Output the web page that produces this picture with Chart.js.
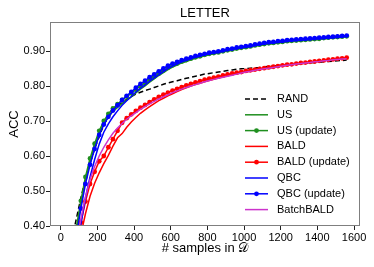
<!DOCTYPE html>
<html><head><meta charset="utf-8">
<script src="https://cdn.jsdelivr.net/npm/chart.js@4/dist/chart.umd.min.js"></script>
<style>html,body{margin:0;padding:0;background:#fff;}canvas{display:block;}</style>
</head><body>
<canvas id="c" width="374" height="267"></canvas>
<script>
const xs = [60,85,110,135,160,185,210,235,260,285,310,335,360,385,410,435,460,485,510,535,560,585,610,635,660,685,710,735,760,785,810,835,860,885,910,935,960,985,1010,1035,1060,1085,1110,1135,1160,1185,1210,1235,1260,1285,1310,1335,1360,1385,1410,1435,1460,1485,1510,1535,1560];

const randVals = [0.36,0.42,0.48,0.535,0.58,0.62,0.655,0.69,0.71,0.73,0.743,0.752,0.762,0.77,0.777,0.782,0.787,0.791,0.796,0.800,0.805,0.809,0.812,0.815,0.819,0.822,0.825,0.828,0.831,0.834,0.836,0.838,0.840,0.842,0.844,0.846,0.848,0.849,0.850,0.851,0.852,0.853,0.855,0.856,0.857,0.858,0.859,0.860,0.861,0.863,0.864,0.865,0.866,0.867,0.868,0.869,0.870,0.871,0.872,0.873,0.874];

const usVals = [0.315,0.385,0.462,0.53,0.583,0.626,0.664,0.692,0.712,0.727,0.739,0.75,0.76,0.769,0.78,0.791,0.80,0.811,0.82,0.83,0.838,0.847,0.854,0.86,0.866,0.87,0.875,0.879,0.883,0.886,0.889,0.892,0.894,0.897,0.90,0.902,0.905,0.907,0.909,0.911,0.914,0.916,0.918,0.92,0.921,0.923,0.924,0.926,0.927,0.928,0.929,0.930,0.931,0.932,0.933,0.935,0.936,0.937,0.938,0.939,0.941];

const usUpdVals = [0.325,0.395,0.472,0.54,0.593,0.635,0.672,0.70,0.72,0.736,0.748,0.76,0.77,0.779,0.79,0.80,0.809,0.819,0.827,0.836,0.844,0.852,0.859,0.864,0.87,0.874,0.878,0.882,0.885,0.889,0.892,0.894,0.896,0.899,0.902,0.904,0.907,0.909,0.911,0.913,0.916,0.918,0.92,0.922,0.923,0.925,0.926,0.928,0.929,0.930,0.931,0.932,0.933,0.934,0.935,0.937,0.938,0.939,0.940,0.941,0.942];

const baldVals = [0.25,0.31,0.375,0.435,0.485,0.522,0.552,0.578,0.602,0.628,0.652,0.664,0.682,0.697,0.71,0.722,0.732,0.741,0.75,0.758,0.765,0.772,0.778,0.784,0.79,0.795,0.80,0.804,0.808,0.812,0.816,0.819,0.823,0.826,0.829,0.832,0.835,0.837,0.84,0.842,0.845,0.847,0.849,0.851,0.853,0.855,0.857,0.859,0.861,0.863,0.865,0.866,0.868,0.869,0.871,0.872,0.874,0.875,0.877,0.878,0.880];

const baldUpdVals = [0.28,0.34,0.41,0.47,0.52,0.555,0.585,0.60,0.625,0.648,0.672,0.695,0.708,0.719,0.729,0.738,0.746,0.754,0.762,0.769,0.775,0.781,0.787,0.792,0.797,0.802,0.806,0.81,0.814,0.818,0.821,0.824,0.827,0.83,0.833,0.836,0.838,0.84,0.843,0.845,0.847,0.849,0.851,0.853,0.855,0.857,0.859,0.861,0.862,0.864,0.866,0.867,0.869,0.87,0.872,0.873,0.875,0.876,0.878,0.879,0.881];

const qbcVals = [0.26,0.325,0.405,0.48,0.54,0.59,0.634,0.668,0.692,0.712,0.729,0.745,0.758,0.77,0.783,0.794,0.803,0.814,0.823,0.832,0.841,0.85,0.857,0.863,0.869,0.873,0.878,0.882,0.885,0.889,0.892,0.894,0.896,0.899,0.902,0.904,0.907,0.909,0.911,0.913,0.916,0.918,0.92,0.922,0.923,0.925,0.926,0.928,0.929,0.930,0.931,0.932,0.933,0.934,0.935,0.936,0.937,0.938,0.939,0.940,0.942];

const qbcUpdVals = [0.30,0.37,0.45,0.52,0.575,0.62,0.66,0.69,0.712,0.73,0.745,0.76,0.772,0.783,0.795,0.806,0.815,0.825,0.833,0.842,0.85,0.858,0.864,0.869,0.874,0.878,0.882,0.886,0.889,0.892,0.895,0.897,0.899,0.902,0.905,0.907,0.91,0.912,0.914,0.916,0.919,0.921,0.923,0.925,0.926,0.928,0.929,0.931,0.932,0.933,0.934,0.935,0.936,0.937,0.938,0.939,0.940,0.941,0.942,0.943,0.944];

const batchBaldVals = [0.29,0.35,0.42,0.483,0.533,0.57,0.60,0.625,0.646,0.665,0.68,0.693,0.705,0.715,0.724,0.733,0.741,0.749,0.756,0.763,0.769,0.775,0.781,0.786,0.791,0.796,0.80,0.804,0.808,0.812,0.816,0.819,0.822,0.825,0.828,0.831,0.834,0.837,0.84,0.842,0.845,0.847,0.849,0.851,0.853,0.855,0.857,0.859,0.861,0.863,0.864,0.866,0.867,0.869,0.87,0.872,0.873,0.875,0.876,0.877,0.878];

const xTicks = [0,200,400,600,800,1000,1200,1400,1600];
const yTicks = [0.40,0.50,0.60,0.70,0.80,0.90];
const seriesLabels = ['RAND','US','US (update)','BALD','BALD (update)','QBC','QBC (update)','BatchBALD'];
const titleText = 'LETTER';
const xTitle = '# samples in \u{1D49F}';
const yTitle = 'ACC';

const FONT = "'Liberation Sans', Arial, Helvetica, sans-serif";
const GREEN = '#1f8f1f', RED = '#ff0000', BLUE = '#0000ff', MAG = '#cc33cc';

const seriesValues = [randVals, usVals, usUpdVals, baldVals, baldUpdVals, qbcVals, qbcUpdVals, batchBaldVals];
const styles = [
  {color:'#000000', dash:[5,3], marker:false},
  {color:GREEN, dash:[], marker:false},
  {color:GREEN, dash:[], marker:true},
  {color:RED, dash:[], marker:false},
  {color:RED, dash:[], marker:true},
  {color:BLUE, dash:[], marker:false},
  {color:BLUE, dash:[], marker:true},
  {color:MAG, dash:[], marker:false}
];

const LW = 1.5, MR = 2.4;

const datasets = seriesValues.map((vals, i) => ({
  label: seriesLabels[i],
  data: xs.map((x, j) => ({x: x, y: vals[j]})),
  borderColor: styles[i].color,
  backgroundColor: styles[i].color,
  borderWidth: LW,
  borderDash: styles[i].dash,
  pointRadius: styles[i].marker ? MR : 0,
  pointBorderWidth: 0,
  pointHoverRadius: 0,
  tension: 0,
  clip: 0,
  order: -i
}));

const overlay = {
  id: 'overlay',
  afterDraw(chart) {
    const {ctx, chartArea: a} = chart;
    ctx.save();
    ctx.strokeStyle = '#7f7f7f';
    ctx.lineWidth = 1;
    ctx.setLineDash([]);
    ctx.strokeRect(a.left + 0.5, a.top + 0.5, a.right - a.left - 1, a.bottom - a.top - 1);
    ctx.fillStyle = '#000';
    ctx.font = '13px ' + FONT;
    ctx.textAlign = 'center';
    ctx.textBaseline = 'middle';
    ctx.fillText(titleText, (a.left + a.right) / 2, 13);
    const x0 = 245, x1 = 268, tx = 277, y0 = 99, dy = 15.8;
    ctx.font = '11px ' + FONT;
    ctx.textAlign = 'left';
    seriesLabels.forEach((lab, i) => {
      const y = y0 + i * dy;
      const st = styles[i];
      ctx.strokeStyle = st.color;
      ctx.lineWidth = LW;
      ctx.setLineDash(st.dash);
      ctx.beginPath(); ctx.moveTo(x0, y); ctx.lineTo(x1, y); ctx.stroke();
      ctx.setLineDash([]);
      if (st.marker) {
        ctx.fillStyle = st.color;
        ctx.beginPath(); ctx.arc((x0 + x1) / 2, y, MR, 0, Math.PI * 2); ctx.fill();
      }
      ctx.fillStyle = '#000';
      ctx.fillText(lab, tx, y);
    });
    ctx.restore();
  }
};

new Chart(document.getElementById('c'), {
  type: 'line',
  data: { datasets },
  options: {
    responsive: false,
    animation: false,
    devicePixelRatio: 1,
    events: [],
    layout: { padding: { top: 22, right: 14, left: 0, bottom: 0 } },
    plugins: { legend: { display: false }, title: { display: false }, tooltip: { enabled: false } },
    scales: {
      x: {
        type: 'linear',
        min: -58.4, max: 1632.6,
        afterBuildTicks: s => { s.ticks = xTicks.map(v => ({value: v})); },
        afterFit: s => { s.height = 41; },
        border: { display: false },
        grid: { display: true, drawOnChartArea: false, drawTicks: true, tickLength: 4, color: '#222' },
        ticks: { color: '#000', font: { size: 11, family: FONT }, padding: 1, maxRotation: 0, autoSkip: false, callback: v => String(v) },
        title: { display: true, text: xTitle, color: '#000', font: { size: 13, family: FONT }, padding: { top: 0, bottom: 11 } }
      },
      y: {
        type: 'linear',
        min: 0.40, max: 0.9829,
        afterBuildTicks: s => { s.ticks = yTicks.map(v => ({value: v})); },
        afterFit: s => { s.width = 50; },
        border: { display: false },
        grid: { display: true, drawOnChartArea: false, drawTicks: true, tickLength: 4, color: '#222' },
        ticks: { color: '#000', font: { size: 11, family: FONT }, padding: 1, autoSkip: false, callback: v => v.toFixed(2) },
        title: { display: true, text: yTitle, color: '#000', font: { size: 13, family: FONT }, padding: { top: 7, bottom: 0 } }
      }
    }
  },
  plugins: [overlay]
});
</script>
</body></html>
